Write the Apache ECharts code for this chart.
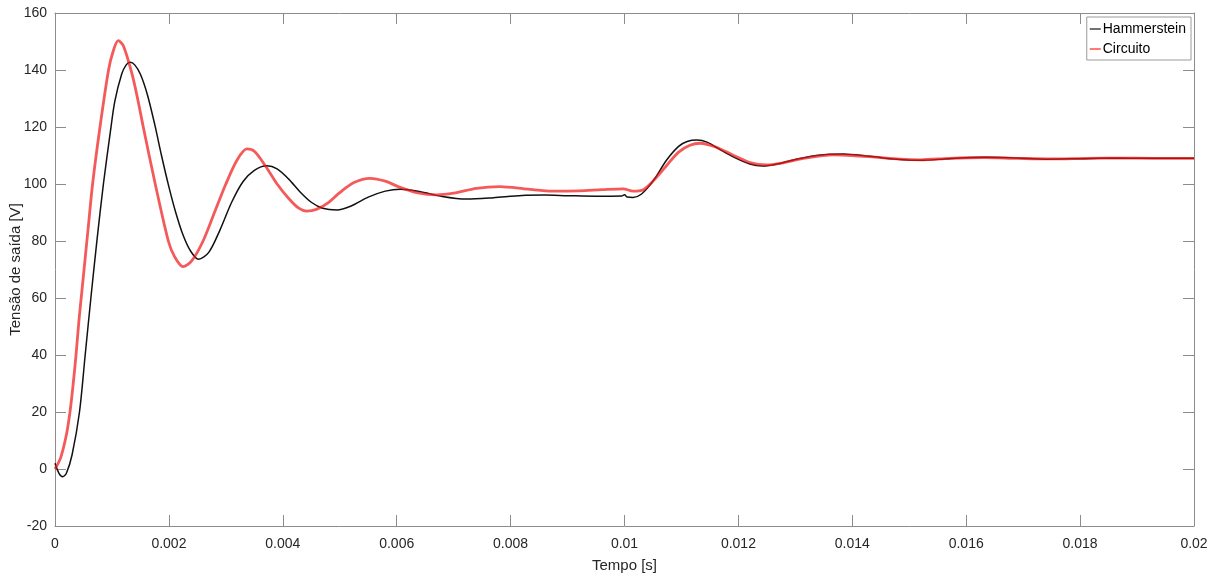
<!DOCTYPE html>
<html>
<head>
<meta charset="utf-8">
<script src="https://cdn.jsdelivr.net/npm/echarts@6/dist/echarts.min.js"></script>
<style>
html,body{margin:0;padding:0;background:#fff;}
#c{width:1222px;height:574px;}
</style>
</head>
<body>
<div id="c"></div>
<script>
// Hammerstein model (time in ms, voltage in V)
const tHammerstein = [0,0.07,0.135,0.2,0.3,0.43,0.53,0.63,0.73,0.85,0.97,1.05,1.17,1.25,1.32,1.4,1.5,1.62,1.75,1.87,2.0,2.12,2.25,2.38,2.52,2.7,2.9,3.1,3.3,3.5,3.72,3.9,4.1,4.3,4.5,4.7,4.95,5.2,5.5,5.8,6.06,6.4,6.8,7.23,7.7,8.2,8.6,9.0,9.5,9.95,10.0,10.05,10.15,10.3,10.5,10.74,10.95,11.1,11.27,11.45,11.65,11.9,12.2,12.43,12.7,13.0,13.4,13.84,14.3,14.84,15.2,15.7,16.36,16.9,17.4,18.0,18.6,19.2,20];
const vHammerstein = [2.0,-1.5,-2.7,-1.5,5,20,40,60,79,100,118,129,138.5,141.8,142.7,141.8,138.5,131.5,121,110,99,90,82,76.5,73.6,76,84,93.5,100.8,104.8,106.4,105.3,101.8,97.3,93.6,91.5,90.9,92.3,95.4,97.5,98.2,97.4,95.6,94.7,95.2,96.0,96.1,95.9,95.7,95.8,96.2,95.4,95.3,96.5,101,108.4,113.2,114.9,115.4,114.7,112.4,109.6,107,106.3,107.1,108.6,110.1,110.5,109.7,108.6,108.3,108.9,109.4,109.1,108.7,108.9,109.1,109.0,109.0];
// Circuit simulation
const tCircuito = [0,0.1,0.2,0.263,0.32,0.369,0.42,0.47,0.52,0.58,0.66,0.79,0.94,1.02,1.11,1.2,1.35,1.45,1.55,1.76,1.99,2.1,2.25,2.4,2.6,2.8,3.0,3.2,3.37,3.5,3.69,3.9,4.1,4.28,4.42,4.6,4.8,5.0,5.25,5.53,5.8,6.06,6.35,6.7,7.0,7.4,7.81,8.3,8.74,9.2,9.6,9.98,10.15,10.33,10.5,10.74,10.95,11.15,11.33,11.6,11.9,12.2,12.5,12.8,13.1,13.66,14.0,14.4,14.84,15.2,15.7,16.3,16.9,17.5,18.1,18.7,19.3,20];
const vCircuito = [0,4,12,20,30,40,52,62,72,84,100,120,140,146.5,150.3,148.5,138.8,130,120,100,80,74.5,71,73,80,90,100,108.5,112.3,111.5,106.5,100,95,91.5,90.5,91.2,93.5,97,100.5,102,101,98.8,97,96.2,96.8,98.5,99.1,98.2,97.5,97.6,98,98.3,97.5,98,101,106.5,111.2,113.6,114.3,113,110.2,107.5,106.7,107.5,108.8,110.2,110,109.4,108.7,108.5,109,109.3,109,108.8,109,109.1,109,109];
const seriesNames = ['Hammerstein','Circuito'];
const xTicks = [0,0.002,0.004,0.006,0.008,0.01,0.012,0.014,0.016,0.018,0.02];
const yTicks = [-20,0,20,40,60,80,100,120,140,160];

const toPairs = (t, v) => t.map((x, i) => [x / 1000, v[i]]);

const font = 'Liberation Sans, Arial, Helvetica, sans-serif';
const axisGray = '#8c8c8c';
const txt = '#262626';
const fmtX = v => String(parseFloat(Number(v).toFixed(4)));

const chart = echarts.init(document.getElementById('c'), null, {renderer: 'canvas'});
const baseX = {
  type: 'value', min: xTicks[0], max: xTicks[xTicks.length - 1], interval: 0.002,
  splitLine: {show: false},
  axisLine: {show: true, onZero: false, lineStyle: {color: axisGray, width: 1}},
  axisTick: {show: true, inside: true, length: 11, lineStyle: {color: axisGray}}
};
const baseY = {
  type: 'value', min: yTicks[0], max: yTicks[yTicks.length - 1], interval: 20,
  splitLine: {show: false},
  axisLine: {show: true, onZero: false, lineStyle: {color: axisGray, width: 1}},
  axisTick: {show: true, inside: true, length: 11, lineStyle: {color: axisGray}}
};
chart.setOption({
  animation: false,
  backgroundColor: '#fff',
  grid: {left: 55, right: 28, top: 13, bottom: 48, show: false, containLabel: false, outerBoundsMode: 'none'},
  legend: {
    orient: 'vertical', right: 31, top: 17,
    data: seriesNames,
    icon: 'rect', itemWidth: 11, itemHeight: 1.2, itemGap: 6,
    padding: [5, 5, 4, 3],
    borderColor: '#9a9a9a', borderWidth: 1, backgroundColor: '#fff',
    textStyle: {fontFamily: font, fontSize: 14, color: '#000', padding: [0, 0, 0, -3]}
  },
  xAxis: [
    Object.assign({}, baseX, {
      position: 'bottom',
      name: 'Tempo [s]', nameLocation: 'middle', nameGap: 32, nameMoveOverlap: false,
      nameTextStyle: {fontFamily: font, fontSize: 15, color: txt},
      axisLabel: {fontFamily: font, fontSize: 14, color: txt, margin: 11, formatter: fmtX}
    }),
    Object.assign({}, baseX, {position: 'top', axisLabel: {show: false}})
  ],
  yAxis: [
    Object.assign({}, baseY, {
      position: 'left',
      name: 'Tensão de saída [V]', nameLocation: 'middle', nameGap: 32, nameRotate: 90, nameMoveOverlap: false,
      nameTextStyle: {fontFamily: font, fontSize: 15, color: txt},
      axisLabel: {fontFamily: font, fontSize: 14, color: txt, margin: 8}
    }),
    Object.assign({}, baseY, {position: 'right', axisLabel: {show: false}})
  ],
  series: [
    {
      name: seriesNames[0], type: 'line', xAxisIndex: 0, yAxisIndex: 0,
      data: toPairs(tHammerstein, vHammerstein),
      smooth: 0.3, showSymbol: false, symbol: 'none',
      lineStyle: {color: '#111', width: 1.5},
      itemStyle: {color: '#111'}, z: 2
    },
    {
      name: seriesNames[1], type: 'line', xAxisIndex: 0, yAxisIndex: 0,
      data: toPairs(tCircuito, vCircuito),
      smooth: 0.3, showSymbol: false, symbol: 'none',
      lineStyle: {color: 'rgba(240,20,20,0.7)', width: 2.8},
      itemStyle: {color: '#ff2020'}, z: 3
    }
  ]
});
</script>
</body>
</html>
